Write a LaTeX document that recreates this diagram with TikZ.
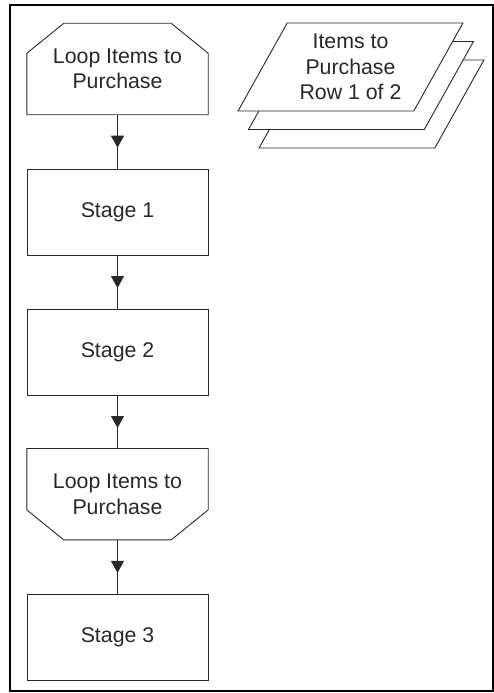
\documentclass[tikz,border=0pt]{standalone}
\usepackage{fontspec}
\setmainfont{Liberation Sans}
\usetikzlibrary{arrows.meta,positioning,calc,shapes.geometric,decorations.markings}
\definecolor{inkgray}{RGB}{40,40,40}

\begin{document}
\begin{tikzpicture}[
  x=1pt,y=1pt,
  font=\fontsize{21.3}{25.5}\selectfont,
  stage/.style={draw=inkgray,line width=0.9pt,minimum width=181pt,minimum height=86pt,align=center,inner sep=0pt,text=inkgray},
  loopbox/.style={minimum width=181pt,minimum height=91pt,align=center,inner sep=0pt,text=inkgray},
  loopline/.style={draw=inkgray,line width=0.9pt},
  sheet/.style={draw=inkgray,line width=0.9pt,fill=white,trapezium,trapezium left angle=59,trapezium right angle=121,trapezium stretches=true,minimum width=225pt,minimum height=88pt,inner sep=0pt,align=center,text=inkgray},
  flow/.style={draw=inkgray,line width=0.9pt,postaction={decorate},decoration={markings,mark=at position 0.5 with {\arrow[xshift=6pt]{Triangle[length=12pt,width=13pt]}}}}
]
\useasboundingbox (0,0) rectangle (494,-693);
\draw[line width=2.2pt] (10,-5) rectangle (493,-691);

% flow column
\node[loopbox] (loopstart) at (117.5,-69) {Loop Items to\\Purchase};
\node[stage,below=54pt of loopstart] (stageone) {Stage 1};
\node[stage,below=53pt of stageone] (stagetwo) {Stage 2};
\node[loopbox,below=53pt of stagetwo] (loopend) {Loop Items to\\Purchase};
\node[stage,below=54pt of loopend] (stagethree) {Stage 3};

% loop limit outlines
\draw[loopline] ($(loopstart.north west)+(37,0)$) -- ($(loopstart.north east)+(-37,0)$)
  -- ($(loopstart.north east)+(0,-30)$) -- (loopstart.south east)
  -- (loopstart.south west) -- ($(loopstart.north west)+(0,-30)$) -- cycle;
\draw[loopline] (loopend.north west) -- (loopend.north east)
  -- ($(loopend.south east)+(0,30)$) -- ($(loopend.south east)+(-37,0)$)
  -- ($(loopend.south west)+(37,0)$) -- ($(loopend.south west)+(0,30)$) -- cycle;

% data sheets, back to front
\node[sheet] (sheetthree) at (371.5,-104) {\phantom{Items to}\\\phantom{Purchase}\\\phantom{Row 1 of 2}};
\node[sheet] (sheettwo) at (361,-85.5) {\phantom{Items to}\\\phantom{Purchase}\\\phantom{Row 1 of 2}};
\node[sheet] (items) at (350.5,-67) {Items to\\Purchase\\Row 1 of 2};

\draw[flow] (loopstart) -- (stageone);
\draw[flow] (stageone) -- (stagetwo);
\draw[flow] (stagetwo) -- (loopend);
\draw[flow] (loopend) -- (stagethree);
\end{tikzpicture}
\end{document}
